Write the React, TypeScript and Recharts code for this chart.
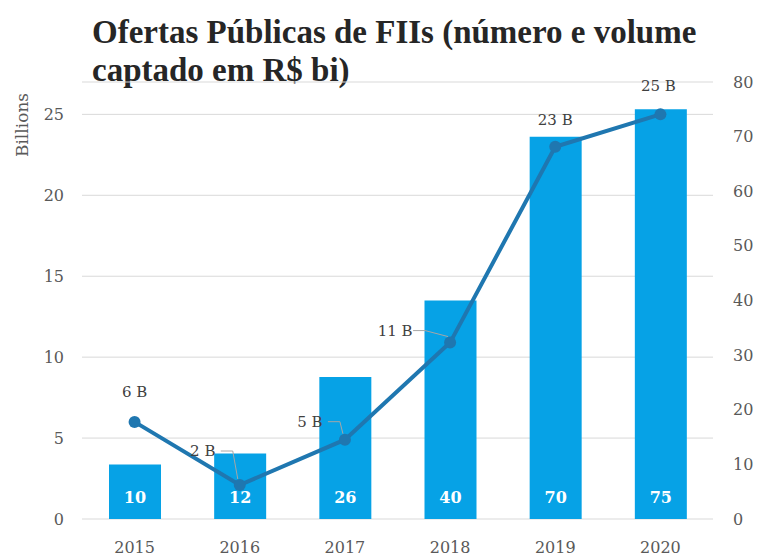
import {
  ComposedChart,
  Bar,
  Line,
  XAxis,
  YAxis,
  CartesianGrid,
  LabelList,
} from 'recharts'

const YEARS = ['2015', '2016', '2017', '2018', '2019', '2020']
const OFFERS = [10, 12, 26, 40, 70, 75]
const VOLUME_BI = [6.0, 2.1, 4.9, 10.9, 23.0, 25.0]

const LEFT_TICKS = [0, 5, 10, 15, 20, 25]
const RIGHT_TICKS = [0, 10, 20, 30, 40, 50, 60, 70, 80]

// where each volume label sits relative to its point, and whether it gets a leader line
const LABEL_OFFSETS = [
  { dx: 0, dy: -30, leader: false },
  { dx: -37, dy: -34, leader: true },
  { dx: -35, dy: -18, leader: true },
  { dx: -55, dy: -12, leader: true },
  { dx: 0, dy: -27, leader: false },
  { dx: -2, dy: -28, leader: false },
]

const BAR_COLOR = '#06A2E6'
const LINE_COLOR = '#1F77B0'
const TICK_COLOR = '#595959'
const TITLE_FONT = '"Liberation Serif", serif'
const SERIF = '"DejaVu Serif", serif'

const data = YEARS.map((year, i) => ({
  year,
  offers: OFFERS[i],
  volume: VOLUME_BI[i],
}))

const AxisTick = (props: any) => {
  const { x, y, payload, textAnchor } = props
  return (
    <text
      x={x}
      y={y}
      textAnchor={textAnchor}
      dominantBaseline="central"
      fontSize={16}
      fontFamily={SERIF}
      fill={TICK_COLOR}
    >
      {payload.value}
    </text>
  )
}

const VolumeLabel = (props: any) => {
  const { x, y, index, value } = props
  const o = LABEL_OFFSETS[index]
  const tx = x + o.dx
  const ty = y + o.dy
  return (
    <g>
      {o.leader && (
        <polyline
          points={`${tx + 18},${ty} ${tx + 30},${ty} ${x - 2},${y - 6}`}
          fill="none"
          stroke="#a6a6a6"
          strokeWidth={1}
        />
      )}
      <text
        x={tx}
        y={ty}
        textAnchor="middle"
        dominantBaseline="central"
        fontSize={15}
        fontFamily={SERIF}
        fill="#404040"
      >
        {`${Math.round(value)} B`}
      </text>
    </g>
  )
}

const OfferLabel = (props: any) => {
  const { x, y, width, height, value } = props
  return (
    <text
      x={x + width / 2}
      y={y + height - 22}
      textAnchor="middle"
      dominantBaseline="central"
      fontSize={16}
      fontWeight="bold"
      fontFamily={SERIF}
      fill="#ffffff"
    >
      {value}
    </text>
  )
}

export default function App() {
  return (
    <div style={{ position: 'absolute', left: 0, top: 0, width: 760, height: 558, background: '#fff' }}>
      <div
        style={{
          position: 'absolute',
          left: 92,
          top: 13,
          width: 668,
          fontFamily: TITLE_FONT,
          fontSize: 33,
          fontWeight: 'bold',
          lineHeight: '38px',
          color: '#262626',
          whiteSpace: 'nowrap',
        }}
      >
        Ofertas Públicas de FIIs (número e volume
        <br />
        captado em R$ bi)
      </div>
      <div
        style={{
          position: 'absolute',
          left: 22,
          top: 125,
          transform: 'translate(-50%, -50%) rotate(-90deg)',
          fontFamily: SERIF,
          fontSize: 17,
          color: TICK_COLOR,
          whiteSpace: 'nowrap',
        }}
      >
        Billions
      </div>
      <ComposedChart
        width={760}
        height={558}
        data={data}
        margin={{ top: 82, right: 0, left: 0, bottom: 0 }}
        style={{ fontFamily: SERIF }}
      >
        <CartesianGrid yAxisId="left" vertical={false} stroke="#d9d9d9" />
        <XAxis
          dataKey="year"
          height={39}
          axisLine={false}
          tickLine={false}
          tickMargin={22}
          tick={AxisTick}
        />
        <YAxis
          yAxisId="left"
          orientation="left"
          width={82}
          domain={[0, 27]}
          ticks={LEFT_TICKS}
          axisLine={false}
          tickLine={false}
          tickMargin={12}
          tick={AxisTick}
        />
        <YAxis
          yAxisId="right"
          orientation="right"
          width={47}
          domain={[0, 80]}
          ticks={RIGHT_TICKS}
          axisLine={false}
          tickLine={false}
          tickMargin={14}
          tick={AxisTick}
        />
        <Bar yAxisId="right" dataKey="offers" fill={BAR_COLOR} barSize={52} isAnimationActive={false}>
          <LabelList dataKey="offers" content={OfferLabel} />
        </Bar>
        <Line
          yAxisId="left"
          dataKey="volume"
          type="linear"
          stroke={LINE_COLOR}
          strokeWidth={4}
          dot={{ r: 6, fill: LINE_COLOR, stroke: LINE_COLOR, strokeWidth: 0 }}
          isAnimationActive={false}
        >
          <LabelList dataKey="volume" content={VolumeLabel} />
        </Line>
      </ComposedChart>
    </div>
  )
}
